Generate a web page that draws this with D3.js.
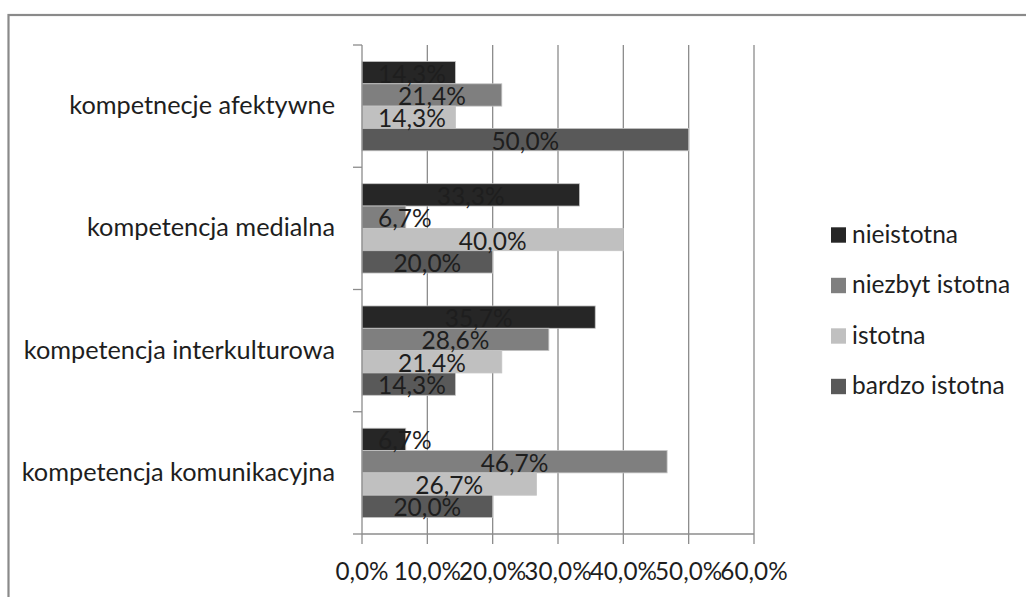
<!DOCTYPE html>
<html>
<head>
<meta charset="utf-8">
<script src="https://cdn.jsdelivr.net/npm/d3@7"></script>
<style>
  html, body { margin: 0; padding: 0; background: #fff; }
  svg { display: block; }
  text { font-family: Lato, "Open Sans", sans-serif; fill: #1e1e1e; }
</style>
</head>
<body>
<svg id="chart" width="1026" height="597"></svg>
<script>
// Categories (top to bottom) and answer levels
const categories = [
  "kompetnecje afektywne",
  "kompetencja medialna",
  "kompetencja interkulturowa",
  "kompetencja komunikacyjna"
];
const seriesNames = ["nieistotna", "niezbyt istotna", "istotna", "bardzo istotna"];
const seriesColors = ["#262626", "#7f7f7f", "#c0c0c0", "#595959"];

// Percent shares per series, in category order
const nieistotna     = [14.3, 33.3, 35.7, 6.7];
const niezbytIstotna = [21.4, 6.7, 28.6, 46.7];
const istotna        = [14.3, 40.0, 21.4, 26.7];
const bardzoIstotna  = [50.0, 20.0, 14.3, 20.0];
const seriesValues = [nieistotna, niezbytIstotna, istotna, bardzoIstotna];

const xTicks = [0, 10, 20, 30, 40, 50, 60];

const fmt = v => d3.format(".1f")(v).replace(".", ",") + "%";

const svg = d3.select("#chart");

// outer frame
svg.append("rect")
  .attr("x", 8.5).attr("y", 15)
  .attr("width", 1100).attr("height", 700)
  .attr("fill", "none")
  .attr("stroke", "#8a8a8a")
  .attr("stroke-width", 2.2);

const x = d3.scaleLinear().domain([0, 60]).range([362, 754]);
const y = d3.scaleBand().domain(categories).range([45, 534]);
const yInner = d3.scaleBand().domain(seriesNames)
  .range([0, y.bandwidth()]).paddingOuter(0.737);

// vertical gridlines
svg.append("g").selectAll("line")
  .data(xTicks.slice(1))
  .join("line")
  .attr("x1", d => x(d)).attr("x2", d => x(d))
  .attr("y1", 45).attr("y2", 534)
  .attr("stroke", "#8c8c8c").attr("stroke-width", 1.3);

// bars
const rows = [];
categories.forEach((c, i) => {
  seriesNames.forEach((s, j) => {
    rows.push({ cat: c, series: s, value: seriesValues[j][i], color: seriesColors[j] });
  });
});

svg.append("g").selectAll("rect")
  .data(rows)
  .join("rect")
  .attr("x", x(0))
  .attr("y", d => y(d.cat) + yInner(d.series))
  .attr("width", d => x(d.value) - x(0))
  .attr("height", yInner.bandwidth())
  .attr("fill", d => d.color)
  .attr("stroke", "#c4c4c4")
  .attr("stroke-width", 0.8);

// data labels, centred on the bar but kept clear of the value axis
const labelSize = 24.5;
const labels = svg.append("g").selectAll("text")
  .data(rows)
  .join("text")
  .attr("font-size", labelSize)
  .attr("text-anchor", "middle")
  .attr("y", d => y(d.cat) + yInner(d.series) + yInner.bandwidth() / 2 + 10)
  .text(d => fmt(d.value));
labels.each(function(d) {
  const w = this.getComputedTextLength();
  const cx = Math.max((x(0) + x(d.value)) / 2, x(0) + 16 + w / 2);
  d3.select(this).attr("x", cx);
});

// category axis
const yAxis = svg.append("g");
yAxis.append("line")
  .attr("x1", x(0)).attr("x2", x(0))
  .attr("y1", 45).attr("y2", 534)
  .attr("stroke", "#8c8c8c").attr("stroke-width", 1.3);
const yEdges = categories.map(c => y(c)).concat([y.range()[1]]);
yAxis.selectAll("line.tick")
  .data(yEdges)
  .join("line")
  .attr("class", "tick")
  .attr("x1", x(0) - 9).attr("x2", x(0))
  .attr("y1", d => d).attr("y2", d => d)
  .attr("stroke", "#8c8c8c").attr("stroke-width", 1.3);
yAxis.selectAll("text")
  .data(categories)
  .join("text")
  .attr("x", 335)
  .attr("y", d => y(d) + y.bandwidth() / 2 + 8)
  .attr("text-anchor", "end")
  .attr("font-size", 25.3)
  .text(d => d);

// value axis
const xAxis = svg.append("g");
xAxis.append("line")
  .attr("x1", x(0)).attr("x2", x(60))
  .attr("y1", 534).attr("y2", 534)
  .attr("stroke", "#8c8c8c").attr("stroke-width", 1.3);
xAxis.selectAll("line.tick")
  .data(xTicks)
  .join("line")
  .attr("class", "tick")
  .attr("x1", d => x(d)).attr("x2", d => x(d))
  .attr("y1", 534).attr("y2", 544)
  .attr("stroke", "#8c8c8c").attr("stroke-width", 1.3);
xAxis.selectAll("text")
  .data(xTicks)
  .join("text")
  .attr("x", d => x(d))
  .attr("y", 580)
  .attr("text-anchor", "middle")
  .attr("font-size", 24.3)
  .text(d => fmt(d));

// legend
const legend = svg.append("g");
const legendY = d3.scalePoint().domain(seriesNames).range([235, 386.5]);
const items = legend.selectAll("g")
  .data(seriesNames)
  .join("g")
  .attr("transform", d => `translate(831, ${legendY(d)})`);
items.append("rect")
  .attr("x", 0).attr("y", -7.7)
  .attr("width", 15).attr("height", 15.4)
  .attr("fill", (d, i) => seriesColors[i]);
items.append("text")
  .attr("x", 21).attr("y", 7.6)
  .attr("font-size", 24.5)
  .text(d => d);
</script>
</body>
</html>
